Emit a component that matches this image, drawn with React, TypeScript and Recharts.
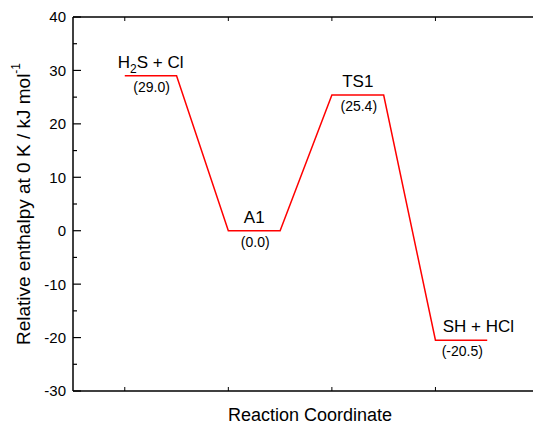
import React from 'react'
import { LineChart, Line, XAxis, YAxis, ReferenceDot } from 'recharts'

const species = ['H2S + Cl', 'A1', 'TS1', 'SH + HCl']
const enthalpy = [29.0, 0.0, 25.4, -20.5]
const coordStart = [1, 2, 3, 4]
const levelWidth = 0.5
const yTicks = [-30, -25, -20, -15, -10, -5, 0, 5, 10, 15, 20, 25, 30, 35, 40]
const xTicks = [1, 2, 3, 4, 5]

const path = coordStart.flatMap((x, i) => [
  { x, h: enthalpy[i] },
  { x: x + levelWidth, h: enthalpy[i] },
])

const font = '"Liberation Sans", Arial, sans-serif'
const nameDx = [0, 0, 0, 17]

// digits sitting between letters are subscripts (H2S), trailing ones are not (TS1)
function formula(name: string) {
  const parts = name.split(/(?<=[A-Za-z])(\d)(?=[A-Za-z])/)
  return parts.map((p, i) =>
    i % 2 === 1 ? (
      <tspan key={i} dy={5} fontSize={12}>{p}</tspan>
    ) : (
      <tspan key={i} dy={i === 0 ? 0 : -5}>{p}</tspan>
    ),
  )
}

const bottomTick = (p: any) => (
  <line x1={p.x} x2={p.x} y1={p.y} y2={p.y - 4} stroke="#000" strokeWidth={1} />
)
const topTick = (p: any) => (
  <line x1={p.x} x2={p.x} y1={p.y} y2={p.y + 4} stroke="#000" strokeWidth={1} />
)
const yTick = (p: any) => {
  const v = p.payload.value
  const major = v % 10 === 0
  return (
    <g>
      <line x1={p.x} x2={p.x + (major ? 8 : 4)} y1={p.y} y2={p.y} stroke="#000" strokeWidth={1.2} />
      {major && (
        <text x={p.x - 7} y={p.y} dy="0.36em" textAnchor="end" fontSize={15} fill="#000" fontFamily={font}>
          {v}
        </text>
      )}
    </g>
  )
}

export default function App() {
  return (
    <div
      style={{
        position: 'absolute',
        left: 0,
        top: 0,
        width: 533,
        height: 425,
        overflow: 'hidden',
        background: '#fff',
        fontFamily: font,
      }}
    >
      <LineChart width={560} height={425} data={path} margin={{ top: 0, right: 21, bottom: 0, left: 0 }}>
        <XAxis
          dataKey="x"
          type="number"
          domain={[0.5, 5]}
          ticks={xTicks}
          height={34}
          tickSize={0}
          tickMargin={0}
          tickLine={false}
          tick={bottomTick}
          axisLine={{ stroke: '#000', strokeWidth: 1.5 }}
          label={(p: any) => (
            <text
              x={p.viewBox.x + p.viewBox.width / 2 + 4}
              y={421}
              textAnchor="middle"
              fontSize={18}
              fill="#000"
              fontFamily={font}
            >
              Reaction Coordinate
            </text>
          )}
        />
        <XAxis
          xAxisId="top"
          orientation="top"
          dataKey="x"
          type="number"
          domain={[0.5, 5]}
          ticks={xTicks}
          height={17}
          tickSize={0}
          tickMargin={0}
          tickLine={false}
          tick={topTick}
          axisLine={{ stroke: '#000', strokeWidth: 1.5 }}
        />
        <YAxis
          type="number"
          domain={[-30, 40]}
          ticks={yTicks}
          width={73}
          tickSize={0}
          tickMargin={0}
          tickLine={false}
          tick={yTick}
          axisLine={{ stroke: '#000', strokeWidth: 1.5 }}
          label={(p: any) => {
            const cx = 23
            const cy = p.viewBox.y + p.viewBox.height / 2
            return (
              <text
                x={cx}
                y={cy}
                transform={`rotate(-90, ${cx}, ${cy})`}
                textAnchor="middle"
                dominantBaseline="central"
                fontSize={19}
                fill="#000"
                fontFamily={font}
              >
                Relative enthalpy at 0 K / kJ mol
                <tspan dy={-7} fontSize={12}>-1</tspan>
              </text>
            )
          }}
        />
        <Line
          dataKey="h"
          type="linear"
          stroke="#ff0000"
          strokeWidth={1.5}
          dot={false}
          activeDot={false}
          isAnimationActive={false}
        />
        {species.map((name, i) => (
          <ReferenceDot
            key={name}
            x={coordStart[i] + levelWidth / 2}
            y={enthalpy[i]}
            r={1}
            fill="none"
            stroke="none"
            label={(p: any) => {
              const cx = p.viewBox.x + p.viewBox.width / 2
              const cy = p.viewBox.y + p.viewBox.height / 2
              return (
                <g fontFamily={font} fill="#000">
                  <text x={cx + nameDx[i]} y={cy - 8} textAnchor="middle" fontSize={17}>
                    {formula(name)}
                  </text>
                  <text x={cx + 1} y={cy + 16} textAnchor="middle" fontSize={14}>
                    ({enthalpy[i].toFixed(1)})
                  </text>
                </g>
              )
            }}
          />
        ))}
      </LineChart>
    </div>
  )
}
